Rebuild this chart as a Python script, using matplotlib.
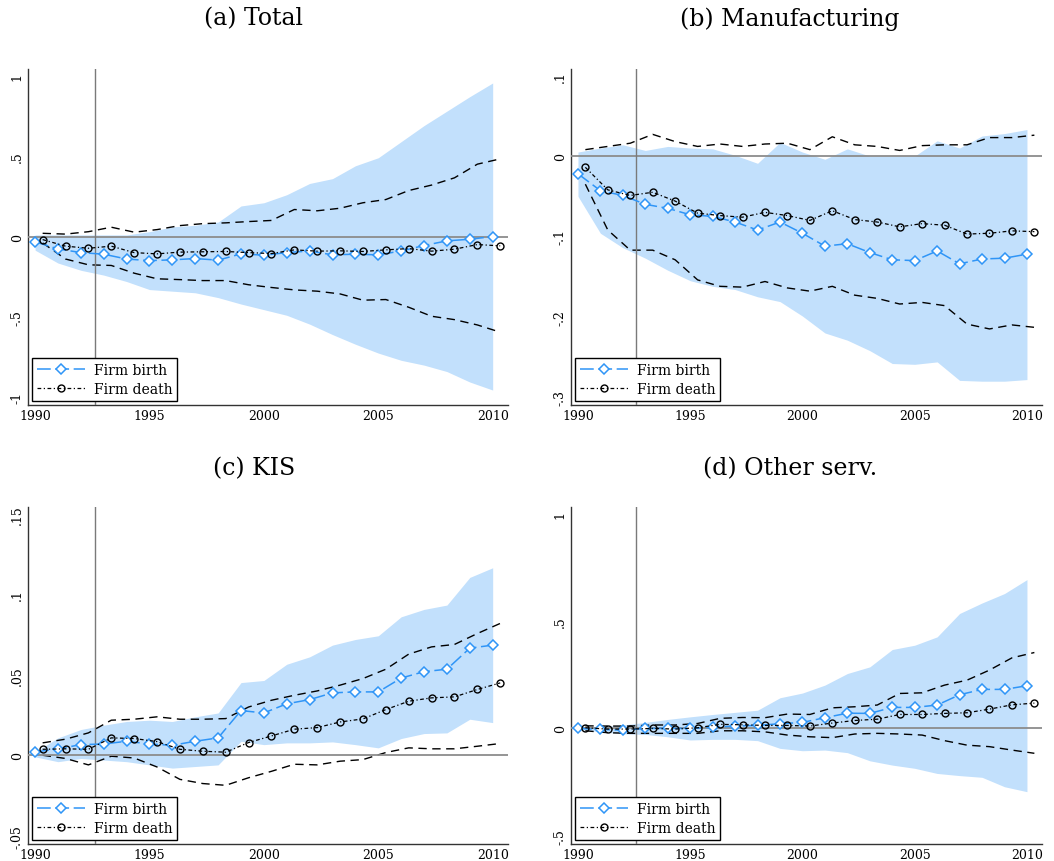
### Firm birth / firm death responses - four panels

import numpy as np
import matplotlib
matplotlib.use('Agg')
import matplotlib.pyplot as plt

years = np.arange(1990, 2011)
death_shift = 0.33
vline_year = 1992.6

# (a) Total
a_birth = [-0.033, -0.077, -0.10, -0.11, -0.14, -0.15, -0.145, -0.137, -0.147, -0.108, -0.116,
           -0.10, -0.09, -0.114, -0.11, -0.114, -0.09, -0.056, -0.027, -0.017, 0.0]
a_death = [-0.019, -0.06, -0.073, -0.06, -0.10, -0.108, -0.097, -0.095, -0.093, -0.10, -0.106,
           -0.083, -0.091, -0.089, -0.093, -0.083, -0.075, -0.091, -0.079, -0.05, -0.058]
a_band_hi = [0.01, 0.01, 0.01, 0.01, 0.01, 0.03, 0.06, 0.07, 0.09, 0.19, 0.21,
             0.26, 0.33, 0.36, 0.44, 0.49, 0.59, 0.69, 0.78, 0.87, 0.955]
a_band_lo = [-0.085, -0.165, -0.21, -0.24, -0.28, -0.33, -0.34, -0.35, -0.38, -0.42, -0.455,
             -0.49, -0.545, -0.61, -0.67, -0.725, -0.77, -0.80, -0.84, -0.905, -0.955]
a_ci_hi = [0.02, 0.015, 0.03, 0.058, 0.027, 0.043, 0.068, 0.08, 0.085, 0.093, 0.10,
           0.168, 0.16, 0.176, 0.21, 0.23, 0.286, 0.32, 0.365, 0.45, 0.483]
a_ci_lo = [-0.04, -0.14, -0.176, -0.18, -0.228, -0.263, -0.268, -0.274, -0.274, -0.30, -0.317,
           -0.332, -0.34, -0.357, -0.396, -0.392, -0.44, -0.496, -0.517, -0.55, -0.595]

# (b) Manufacturing
b_birth = [-0.022, -0.043, -0.049, -0.060, -0.065, -0.073, -0.075, -0.082, -0.092, -0.082, -0.096,
           -0.112, -0.109, -0.120, -0.129, -0.130, -0.118, -0.134, -0.128, -0.127, -0.122]
b_death = [-0.014, -0.042, -0.049, -0.045, -0.056, -0.071, -0.074, -0.076, -0.070, -0.074, -0.080,
           -0.068, -0.079, -0.082, -0.088, -0.084, -0.086, -0.097, -0.096, -0.093, -0.094]
b_band_hi = [0.005, 0.01, 0.014, 0.007, 0.012, 0.010, 0.009, 0.001, -0.009, 0.017, 0.005,
             -0.004, 0.009, 0.0, 0.0, 0.0, 0.019, 0.010, 0.025, 0.028, 0.033]
b_band_lo = [-0.050, -0.096, -0.114, -0.127, -0.142, -0.155, -0.162, -0.166, -0.175, -0.181, -0.199,
             -0.220, -0.229, -0.242, -0.258, -0.259, -0.256, -0.279, -0.280, -0.280, -0.278]
b_ci_hi = [0.008, 0.012, 0.016, 0.027, 0.018, 0.012, 0.015, 0.012, 0.015, 0.016, 0.008,
           0.024, 0.014, 0.012, 0.007, 0.013, 0.014, 0.014, 0.023, 0.023, 0.026]
b_ci_lo = [-0.035, -0.092, -0.117, -0.117, -0.129, -0.154, -0.162, -0.163, -0.156, -0.164, -0.168,
           -0.162, -0.173, -0.177, -0.184, -0.182, -0.186, -0.209, -0.215, -0.210, -0.213]

# (c) KIS
c_birth = [0.002, 0.004, 0.0066, 0.007, 0.0087, 0.007, 0.0062, 0.0087, 0.0108, 0.0278, 0.0263,
           0.032, 0.0346, 0.0388, 0.0394, 0.0394, 0.048, 0.052, 0.0535, 0.0666, 0.0685]
c_death = [0.0037, 0.004, 0.0037, 0.0108, 0.0104, 0.0085, 0.0037, 0.0025, 0.0019, 0.0079, 0.012,
           0.0162, 0.0172, 0.0207, 0.0226, 0.0284, 0.0336, 0.0357, 0.0363, 0.0409, 0.045]
c_band_hi = [0.002, 0.0108, 0.016, 0.0187, 0.021, 0.0218, 0.021, 0.0239, 0.0263, 0.0452, 0.0465,
             0.0566, 0.0612, 0.0685, 0.072, 0.0743, 0.0861, 0.0907, 0.0934, 0.1106, 0.1166]
c_band_lo = [-0.001, -0.004, -0.002, -0.003, -0.004, -0.006, -0.008, -0.007, -0.006, 0.0087, 0.0066,
             0.0077, 0.0077, 0.0083, 0.0066, 0.0046, 0.0104, 0.0135, 0.0139, 0.0224, 0.0203]
c_ci_hi = [0.0077, 0.01, 0.0139, 0.0218, 0.0224, 0.0239, 0.0224, 0.0224, 0.0228, 0.030, 0.0342,
           0.0373, 0.040, 0.0436, 0.0477, 0.0535, 0.0629, 0.0674, 0.0689, 0.0757, 0.082]
c_ci_lo = [0.0, -0.002, -0.006, -0.0006, -0.0017, -0.0073, -0.015, -0.0176, -0.0187, -0.014, -0.01,
           -0.0056, -0.006, -0.0037, -0.0027, 0.0017, 0.0046, 0.004, 0.004, 0.0056, 0.0073]

# (d) Other serv.
d_birth = [0.0, -0.005, -0.008, 0.0, 0.0, 0.0, 0.005, 0.011, 0.014, 0.022, 0.028,
           0.05, 0.071, 0.07, 0.098, 0.098, 0.109, 0.157, 0.182, 0.182, 0.199]
d_death = [0.003, -0.003, -0.003, 0.0, -0.003, 0.003, 0.019, 0.017, 0.014, 0.014, 0.011,
           0.025, 0.037, 0.043, 0.065, 0.065, 0.07, 0.073, 0.09, 0.11, 0.118]
d_band_hi = [0.003, 0.009, 0.016, 0.028, 0.042, 0.054, 0.065, 0.075, 0.085, 0.143, 0.165,
             0.202, 0.256, 0.287, 0.368, 0.388, 0.427, 0.536, 0.585, 0.629, 0.694]
d_band_lo = [-0.003, -0.016, -0.025, -0.028, -0.039, -0.054, -0.051, -0.051, -0.057, -0.093, -0.104,
             -0.101, -0.113, -0.151, -0.171, -0.186, -0.21, -0.22, -0.228, -0.272, -0.295]
d_ci_hi = [0.012, 0.011, 0.011, 0.016, 0.016, 0.023, 0.047, 0.051, 0.05, 0.067, 0.065,
           0.096, 0.101, 0.109, 0.163, 0.166, 0.202, 0.225, 0.272, 0.329, 0.354]
d_ci_lo = [-0.011, -0.02, -0.023, -0.023, -0.023, -0.023, -0.011, -0.011, -0.016, -0.031, -0.039,
           -0.043, -0.026, -0.023, -0.026, -0.031, -0.057, -0.078, -0.085, -0.101, -0.116]

titles = ['(a) Total', '(b) Manufacturing', '(c) KIS', '(d) Other serv.']
yticks = [[1, 0.5, 0, -0.5, -1], [0.1, 0, -0.1, -0.2, -0.3],
          [0.15, 0.1, 0.05, 0, -0.05], [1, 0.5, 0, -0.5]]
ytick_labels = [['1', '.5', '0', '-.5', '-1'], ['.1', '0', '-.1', '-.2', '-.3'],
                ['.15', '.1', '.05', '0', '-.05'], ['1', '.5', '0', '-.5']]
ylims = [(-1.048, 1.042), (-0.3096, 0.1083), (-0.0552, 0.1544), (-0.539, 1.0326)]
xticks = [1990, 1995, 2000, 2005, 2010]

panels = [
    (a_birth, a_death, a_band_lo, a_band_hi, a_ci_lo, a_ci_hi),
    (b_birth, b_death, b_band_lo, b_band_hi, b_ci_lo, b_ci_hi),
    (c_birth, c_death, c_band_lo, c_band_hi, c_ci_lo, c_ci_hi),
    (d_birth, d_death, d_band_lo, d_band_hi, d_ci_lo, d_ci_hi),
]

W, H = 1054, 862
# axes boxes in pixels: left, top, right, bottom
boxes = [(28, 70, 508, 406), (571, 70, 1042, 406),
         (28, 508, 508, 845), (571, 508, 1042, 845)]
title_pos = [(254, 19), (790, 19), (254, 469), (790, 469)]

band_color = '#c2e0fc'
birth_color = '#2f95f7'
serif = 'DejaVu Serif'

fig = plt.figure(figsize=(W / 100, H / 100), dpi=100)

for i, (birth, death, blo, bhi, clo, chi) in enumerate(panels):
    l, t, r, b = boxes[i]
    ax = fig.add_axes([l / W, 1 - b / H, (r - l) / W, (b - t) / H])
    xd = years + death_shift

    ax.fill_between(years, blo, bhi, color=band_color, lw=0, zorder=1)
    ax.plot(xd, chi, color='black', lw=1, dashes=(6, 4), zorder=2)
    ax.plot(xd, clo, color='black', lw=1, dashes=(6, 4), zorder=2)
    ax.axhline(0, color='#8c8c8c', lw=1.3, zorder=3)
    ax.axvline(vline_year, color='#7a7a7a', lw=1, zorder=3)

    ax.plot(years, birth, color=birth_color, lw=1.1, dashes=(9, 3), marker='D',
            markersize=5, markerfacecolor='white', markeredgecolor=birth_color,
            markeredgewidth=1.1, label='Firm birth', zorder=5)
    ax.plot(xd, death, color='black', lw=0.9, dashes=(3, 2, 1, 2), marker='o',
            markersize=5, markerfacecolor='none', markeredgecolor='black',
            markeredgewidth=1, label='Firm death', zorder=5)

    ax.set_xlim(1989.69, 2010.67)
    ax.set_ylim(*ylims[i])
    ax.set_xticks(xticks)
    ax.set_xticklabels([str(x) for x in xticks], family=serif, fontsize=9)
    ax.set_yticks(yticks[i])
    ax.set_yticklabels(ytick_labels[i], family=serif, fontsize=9, rotation=90, va='center')
    ax.tick_params(length=0, pad=3)
    for s in ['top', 'right']:
        ax.spines[s].set_visible(False)
    for s in ['left', 'bottom']:
        ax.spines[s].set_color('#333333')
        ax.spines[s].set_linewidth(1)

    leg = ax.legend(loc='lower left', bbox_to_anchor=(0.008, 0.012), borderaxespad=0,
                    prop={'family': serif, 'size': 10}, handlelength=3.5, handletextpad=0.6,
                    fancybox=False, framealpha=1, edgecolor='black', borderpad=0.35,
                    labelspacing=0.4)
    leg.get_frame().set_linewidth(1)

    tx, ty = title_pos[i]
    fig.text(tx / W, 1 - ty / H, titles[i], ha='center', va='center',
             family=serif, fontsize=17)

plt.savefig('out.png', dpi=100)
